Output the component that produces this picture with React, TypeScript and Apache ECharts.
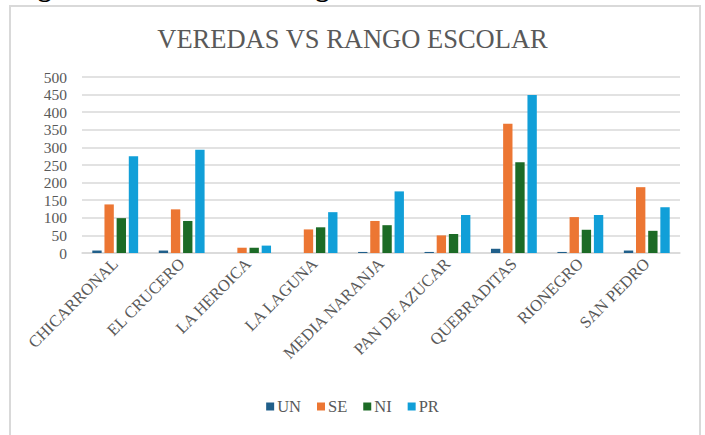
import React, { useEffect, useRef } from "react";
import * as echarts from "echarts";

const categories = [
  "CHICARRONAL",
  "EL CRUCERO",
  "LA HEROICA",
  "LA LAGUNA",
  "MEDIA NARANJA",
  "PAN DE AZUCAR",
  "QUEBRADITAS",
  "RIONEGRO",
  "SAN PEDRO",
];
const seriesNames = ["UN", "SE", "NI", "PR"];
const unValues = [7, 7, 0, 0, 3, 3, 12, 3, 7];
const seValues = [138, 124, 15, 67, 91, 50, 367, 102, 187];
const niValues = [99, 91, 15, 73, 79, 54, 258, 66, 63];
const prValues = [275, 293, 21, 116, 175, 108, 449, 108, 130];
const yTicks = [0, 50, 100, 150, 200, 250, 300, 350, 400, 450, 500];
const colors = ["#205F8A", "#EC7633", "#1C6B26", "#119FD8"];

const FONT = "'Liberation Serif', 'Times New Roman', serif";
const GRAY = "#595959";

export default function App() {
  const ref = useRef<HTMLDivElement>(null);
  useEffect(() => {
    if (!ref.current) return;
    const chart = echarts.init(ref.current, null, { renderer: "svg" });
    const data = [unValues, seValues, niValues, prValues];
    chart.setOption({
      animation: false,
      backgroundColor: "#ffffff",
      title: {
        text: "VEREDAS VS RANGO ESCOLAR",
        left: "center",
        top: 20,
        textStyle: {
          fontFamily: FONT,
          fontSize: 26.5,
          fontWeight: "normal",
          color: GRAY,
        },
      },
      graphic: [
        {
          type: "rect",
          shape: { x: 10, y: 6, width: 690, height: 460 },
          style: { fill: "none", stroke: "#d9d9d9", lineWidth: 2 },
          silent: true,
        },
        {
          type: "text",
          x: 14,
          y: 0,
          style: {
            text: "Figura 10. Veredas vs Rango escolar",
            font: "bold 27px " + FONT,
            fill: "#000000",
            verticalAlign: "bottom",
          },
          silent: true,
        },
      ],
      legend: {
        data: seriesNames,
        bottom: 15,
        left: "center",
        itemWidth: 8,
        itemHeight: 8,
        itemGap: 16,
        icon: "rect",
        textStyle: { fontFamily: FONT, fontSize: 16.5, color: GRAY, padding: [0, 0, 0, -2] },
      },
      grid: { left: 82, right: 25, top: 77, bottom: 182, containLabel: false },
      xAxis: {
        type: "category",
        data: categories,
        axisTick: { show: false },
        axisLine: { lineStyle: { color: "#d9d9d9", width: 1.5 } },
        axisLabel: {
          rotate: 45,
          interval: 0,
          margin: 8,
          fontFamily: FONT,
          fontSize: 16.5,
          color: GRAY,
        },
      },
      yAxis: {
        type: "value",
        min: 0,
        max: 500,
        interval: 50,
        axisLine: { show: false },
        axisTick: { show: false },
        splitLine: { lineStyle: { color: "#d9d9d9", width: 1.5 } },
        axisLabel: {
          margin: 15,
          fontFamily: FONT,
          fontSize: 15.5,
          color: GRAY,
          formatter: (v: number) => (yTicks.includes(v) ? String(v) : ""),
        },
      },
      series: seriesNames.map((name, i) => ({
        name,
        type: "bar",
        data: data[i],
        barGap: "30%",
        barCategoryGap: "31%",
        itemStyle: { color: colors[i] },
      })),
    });
    return () => chart.dispose();
  }, []);
  return (
    <div
      ref={ref}
      style={{ position: "fixed", left: 0, top: 0, width: 705, height: 435 }}
    />
  );
}
